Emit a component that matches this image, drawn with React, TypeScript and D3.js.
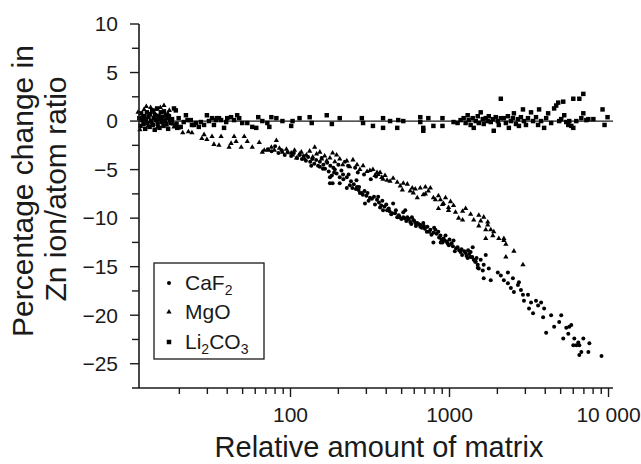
import React from "react";
import * as d3 from "d3";

// ---------- data ----------
const seriesNames = ["CaF2", "MgO", "Li2CO3"];

const xTickValues = [100, 1000, 10000];
const xTickLabels = ["100", "1000", "10 000"];
const yTickValues = [-25, -20, -15, -10, -5, 0, 5, 10];
const yTickLabels = ["\u221225", "\u221220", "\u221215", "\u221210", "\u22125", "0", "5", "10"];

const xLabel = "Relative amount of matrix";
const yLabelLines = ["Percentage change in", "Zn ion/atom ratio"];

const caf2Data: [number, number][] = [
  [72, -2.9], [76, -3.1], [80, -2.6], [84, -3.3], [88, -3.0], [92, -3.5], [96, -3.2], [101, -3.6], [105, -3.3], [110, -3.8], [114, -3.5],
  [118, -3.9], [121, -3.6], [125, -4.1], [129, -3.7], [133, -4.2], [137, -3.9], [141, -4.4], [145, -4.0], [149, -4.6], [153, -4.2],
  [157, -3.8], [161, -4.5], [165, -4.9], [170, -4.3], [174, -5.2], [178, -4.6], [182, -5.6], [186, -4.8], [190, -5.0], [195, -5.4],
  [200, -4.5], [204, -5.8], [209, -5.1], [214, -5.5], [220, -4.2], [230, -4.6], [255, -4.8], [265, -5.3], [290, -5.5], [320, -6.0], [345, -5.7],
  [153, -4.7], [177, -5.8], [184, -6.4], [177, -6.4], [204, -6.4], [226, -5.8], [226, -6.9], [236, -6.6], [262, -6.8], [273, -7.4],
  [281, -7.4], [294, -8.5], [316, -7.9], [356, -7.8], [366, -8.9], [382, -9.2], [405, -9.2], [442, -8.5], [455, -9.5], [436, -9.5],
  [469, -9.9], [512, -9.9], [512, -9.4], [527, -9.2], [543, -9.9], [566, -10.4], [592, -10.2], [627, -10.5], [655, -10.7], [655, -10.9],
  [684, -10.5], [726, -10.9], [758, -11.2], [792, -11.5], [815, -11.2], [877, -11.8], [916, -12.1], [944, -11.8], [972, -12.6], [903, -12.5],
  [792, -12.5], [1060, -12.3], [1124, -13.0], [1174, -13.5], [1263, -13.6], [1358, -13.5], [1301, -14.1], [1420, -14.3], [1505, -14.8], [1528, -15.2],
  [240, -6.2], [250, -6.5], [258, -7.0], [268, -7.1], [285, -7.6], [300, -7.7], [310, -8.2], [325, -8.0], [340, -8.6], [360, -8.4],
  [372, -8.7], [390, -8.8], [415, -9.0], [430, -9.6], [480, -9.7], [498, -10.1], [520, -10.0], [555, -10.1], [575, -10.6], [600, -10.3],
  [615, -10.8], [640, -10.6], [670, -11.0], [700, -11.1], [745, -11.4], [770, -11.7], [830, -11.6], [860, -12.0], [890, -12.2], [930, -12.3],
  [960, -12.4], [990, -12.8], [1030, -12.6], [1100, -13.1], [1150, -13.3], [1200, -13.8], [1240, -13.4], [1280, -13.9], [1330, -13.7], [1390, -14.0],
  [1450, -14.5], [1480, -14.1],
  [245, -6.9], [270, -6.8], [292, -7.2], [305, -7.4], [335, -7.8], [350, -8.1], [378, -8.2], [400, -8.6], [420, -9.3], [460, -9.2],
  [485, -9.9], [535, -10.3], [580, -9.9], [610, -10.5], [690, -10.8], [720, -11.4], [800, -11.0], [850, -11.4], [880, -12.5], [1000, -12.2],
  [1050, -12.9], [1080, -13.4], [1190, -13.2], [1310, -13.3], [135, -4.6], [160, -4.9], [188, -5.3], [215, -6.0], [232, -5.5], [260, -6.1],
  [1399, -13.0], [1358, -14.0], [1462, -14.5], [1571, -14.3], [1690, -13.8], [1641, -14.8], [1619, -15.4], [1505, -15.1], [1766, -15.2], [1817, -16.4],
  [1641, -16.2], [2012, -15.6], [2102, -15.9], [2197, -16.4], [2329, -16.7], [2329, -15.6], [2504, -16.2], [2431, -17.2], [2693, -16.9], [2541, -17.6],
  [2733, -16.6], [2813, -17.4], [2897, -17.9], [3115, -17.9], [2939, -18.5], [3256, -18.7], [3500, -18.5], [3767, -18.7], [3162, -19.3], [3352, -19.8],
  [3606, -19.0], [3936, -19.3], [3878, -20.2], [4356, -20.0], [4053, -21.8], [4550, -21.2], [4896, -20.7], [5043, -20.0], [5424, -21.3], [5665, -21.2],
  [5832, -21.0], [5583, -21.9], [5191, -22.4], [6093, -22.4], [6456, -22.8], [6272, -23.1], [6552, -23.1], [6943, -22.4], [7577, -22.9], [6004, -23.1],
  [6745, -23.8], [6552, -24.1], [7467, -23.8], [9036, -24.2],
];

const mgoData: [number, number][] = [
  [11.0, 0.9], [11.3, -0.9], [11.6, 0.4], [12.0, 1.2], [12.4, 1.5], [12.7, -0.5], [12.9, 0.7], [13.2, 1.4], [13.5, -0.2], [13.9, 0.9],
  [14.2, 1.2], [14.6, -0.6], [14.9, 0.5], [15.2, 1.4], [15.6, 0.2], [16.0, 1.6], [16.5, -0.4], [16.9, 0.8], [17.3, 1.1], [17.8, 0.0],
  [18.3, -0.3], [18.5, -0.6], [19.8, -0.7], [21.0, -1.2], [22.8, -1.1], [24.0, -1.2], [27.7, -1.8], [28.6, -1.4], [29.8, -1.9], [32.1, -1.6],
  [33.0, -2.4], [35.5, -2.5], [36.6, -1.6], [41.1, -2.7], [42.3, -2.3], [44.2, -1.6], [45.5, -2.1], [49.0, -2.7], [51.2, -1.6], [53.5, -2.1],
  [57.5, -2.7], [63.6, -2.2], [66.5, -3.2], [68.4, -3.0], [72.6, -3.0], [75.8, -2.7], [79.2, -3.0], [81.5, -2.0], [85.2, -2.8], [89, -3.2],
  [94.3, -2.9], [101, -3.3], [103, -3.5], [106, -3.0], [109, -3.8], [114, -3.4], [117, -3.2], [123, -3.9], [126, -3.5], [132, -3.1],
  [138, -3.7], [142, -2.7], [146, -3.4], [153, -3.2], [157, -3.9], [164, -3.6], [169, -4.1], [177, -3.8], [184, -3.3], [190, -4.2],
  [195, -3.5], [204, -3.9], [213, -4.5], [226, -4.1], [236, -4.7], [247, -4.0], [262, -4.5], [273, -5.0], [286, -4.6], [303, -5.2],
  [316, -5.1], [330, -5.0], [340, -5.6], [350, -5.3], [356, -5.5], [366, -5.3], [375, -5.8], [382, -6.0], [393, -5.6], [405, -6.1],
  [423, -6.2], [442, -5.9], [469, -6.3], [490, -6.7], [512, -6.4], [505, -7.1], [543, -6.5], [566, -7.2], [583, -6.9], [592, -7.4],
  [609, -7.0], [627, -7.9], [655, -6.9], [684, -7.6], [705, -6.8], [758, -6.9], [705, -7.5], [736, -7.2], [792, -7.9], [815, -8.1],
  [852, -7.7], [852, -9.0], [877, -8.1], [903, -8.6], [916, -8.5], [944, -7.9], [986, -9.2], [986, -8.9], [1015, -8.3], [1060, -8.7],
  [1091, -9.4], [1141, -10.0], [1209, -9.3], [1209, -10.2], [1263, -9.0], [1358, -9.6], [1420, -10.2], [1528, -9.7], [1571, -10.3], [1641, -9.9],
  [1740, -10.4], [1528, -10.8], [1740, -10.7], [1690, -11.2], [1817, -11.2], [1898, -11.4], [1872, -11.8], [1690, -12.1], [2042, -12.1], [2197, -12.1],
  [2197, -12.3], [2262, -12.7], [2541, -13.4], [2262, -14.0], [2897, -14.8],
];

const li2co3Data: [number, number][] = [
  [11.2, 0.3], [11.4, -0.5], [11.5, 0.8], [11.7, 0.1], [11.9, -0.3], [12.0, 0.5], [12.2, -0.8], [12.3, 0.2], [12.5, 0.9], [12.6, -0.2],
  [12.8, 0.4], [13.0, -0.6], [13.1, 0.7], [13.3, 0.0], [13.5, 1.1], [13.6, -0.4], [13.8, 0.3], [14.0, -0.9], [14.1, 0.6], [14.3, 0.1],
  [14.5, 1.3], [14.6, -0.3], [14.8, 0.5], [15.0, -0.7], [15.1, 0.2], [15.3, 0.9], [15.5, -0.1], [15.7, 0.4], [15.9, -0.5], [16.0, 1.0],
  [16.2, 0.0], [16.4, 0.6], [16.6, -0.3], [16.8, 0.3], [17.0, -0.8], [17.2, 0.5], [17.5, 0.1], [17.7, -0.2], [18.0, 0.2], [18.5, 1.3],
  [19.0, 1.1], [19.2, -0.3], [19.4, -0.7], [19.8, 0.3], [20.4, -0.6], [21.3, -0.1], [22.0, 0.6], [22.5, 0.1], [23.6, 0.1], [24.0, -0.4],
  [24.7, -0.4], [25.4, -0.2], [26.5, -0.6], [27.3, -0.1], [28.6, -0.4], [29.8, 0.6], [30.7, 0.0], [32.1, 0.3], [33.0, -0.4], [34.0, 0.1],
  [34.5, 0.3], [35.5, 0.3], [36.6, 0.1], [38.2, -0.7], [39.4, -0.1], [40.0, 0.3], [42.3, 0.4], [44.2, 0.1], [46.2, 0.6], [47.6, 0.3],
  [49.7, -0.2], [53.5, -0.2], [57.5, -0.6], [60.9, -0.7], [62.7, 0.4], [66.5, 0.0], [71.5, -0.2], [73.6, -0.6], [75.8, 0.4], [81.5, 0.3],
  [89, 0.0], [101, -0.5], [103, 0.0], [114, 0.3], [132, 0.4], [136, -0.2], [169, 0.6], [182, -0.3], [204, 0.3], [281, 0.3],
  [286, -0.2], [330, -0.5], [382, 0.3], [382, -0.7], [423, 0.0], [469, -0.7], [476, 0.1], [512, 0.0], [655, 0.4], [655, -0.1],
  [684, -0.7], [684, -1.0], [736, 0.3], [792, -0.5], [903, 0.3], [903, -0.5], [1060, -0.1], [1124, -0.2], [1174, 0.1], [1227, 0.3],
  [1263, -0.2], [1301, 0.6], [1320, 0.1], [1358, -0.4], [1399, 0.3], [1420, -0.7], [1462, 0.0], [1505, 0.5], [1528, -0.2], [1571, 0.9],
  [1619, 0.2], [1641, -0.3], [1690, 0.3], [1740, 0.0], [1766, 0.5], [1817, -0.1], [1872, 0.2], [1898, -1.0], [1954, 0.4], [2012, 0.0],
  [2042, -0.4], [2102, 2.3], [2102, 0.3], [2197, 0.3], [2262, -0.2], [2329, 0.5], [2362, -0.7], [2431, 0.0], [2504, 0.3], [2541, 0.8],
  [2616, -0.3], [2693, 0.2], [2733, -0.5], [2813, 0.4], [2897, 1.2], [2939, 0.0], [3026, -0.4], [3115, 0.3], [3256, 0.9], [3352, 0.0],
  [3500, 0.4], [3606, -0.4], [3659, 1.2], [3767, 0.0], [3936, -0.7], [4053, 0.3], [4172, 0.8], [4356, -0.2], [4550, 1.3], [4687, 1.6],
  [4825, 1.9], [4896, 0.0], [5043, 0.2], [5191, 2.0], [5268, 0.6], [5424, -0.1], [5583, -0.4], [5665, 0.0], [5832, -0.5], [6004, 2.3],
  [6004, -0.7], [6272, 0.0], [6552, 2.3], [6745, 0.3], [6943, 2.8], [6943, 0.8], [7253, 0.1], [7467, 0.2], [8030, 0.2], [9170, 1.2],
  [9440, -0.4], [9860, 0.4],
];

// ---------- layout ----------
const W = 641;
const H = 464;
const FONT = "'Liberation Sans', Arial, Helvetica, sans-serif";
const INK = "#1a1a1a";

export default function App() {
  const x = d3.scaleLog().domain([11.15, 10670]).range([139, 613]);
  const y = d3.scaleLinear().domain([-27.5, 10]).range([388, 24]);

  const x0 = x.range()[0];
  const x1 = x.range()[1];
  const yBottom = y.range()[0];
  const yTop = y.range()[1];

  const minorX: number[] = [];
  for (const dec of [10, 100, 1000]) {
    for (let k = 2; k <= 9; k++) {
      const v = dec * k;
      if (v >= x.domain()[0] && v <= x.domain()[1]) minorX.push(v);
    }
  }
  const minorY = d3.range(-22.5, 10, 5);

  const tri = d3.symbol().type(d3.symbolTriangle).size(12)()!;
  const sq = d3.symbol().type(d3.symbolSquare).size(20)()!;

  const legendRows = [
    { y: 283, kind: "circle" },
    { y: 312, kind: "tri" },
    { y: 342, kind: "sq" },
  ];

  const marker = (kind: string, cx: number, cy: number, key: string | number) => {
    if (kind === "circle") return <circle key={key} cx={cx} cy={cy} r={2} fill="#000" />;
    if (kind === "tri") return <path key={key} d={tri} transform={`translate(${cx},${cy})`} fill="#000" />;
    return <path key={key} d={sq} transform={`translate(${cx},${cy})`} fill="#000" />;
  };

  return (
    <svg
      width={W}
      height={H}
      viewBox={`0 0 ${W} ${H}`}
      style={{ position: "absolute", left: 0, top: 0, background: "#fff" }}
      fontFamily={FONT}
    >
      <rect width={W} height={H} fill="#fff" />

      {/* zero reference line */}
      <line x1={x0} x2={x1} y1={y(0)} y2={y(0)} stroke={INK} strokeWidth={1.3} />

      {/* data */}
      <g>{li2co3Data.map((d, i) => marker("sq", x(d[0]), y(d[1]), "l" + i))}</g>
      <g>{mgoData.map((d, i) => marker("tri", x(d[0]), y(d[1]), "m" + i))}</g>
      <g>{caf2Data.map((d, i) => marker("circle", x(d[0]), y(d[1]), "c" + i))}</g>

      {/* y axis */}
      <line x1={x0} x2={x0} y1={yTop} y2={yBottom} stroke={INK} strokeWidth={1.6} />
      {yTickValues.map((v, i) => (
        <g key={"yt" + v}>
          <line x1={x0 - 9} x2={x0} y1={y(v)} y2={y(v)} stroke={INK} strokeWidth={1.4} />
          <text x={118} y={y(v)} dy="0.35em" textAnchor="end" fontSize={21} fill={INK}>
            {yTickLabels[i]}
          </text>
        </g>
      ))}
      {minorY.map((v) => (
        <line key={"ym" + v} x1={x0 - 7} x2={x0} y1={y(v)} y2={y(v)} stroke={INK} strokeWidth={1.4} />
      ))}

      {/* x axis */}
      <line x1={x0 - 7} x2={x1} y1={yBottom} y2={yBottom} stroke={INK} strokeWidth={1.6} />
      {xTickValues.map((v, i) => (
        <g key={"xt" + v}>
          <line x1={x(v)} x2={x(v)} y1={yBottom} y2={yBottom + 9} stroke={INK} strokeWidth={1.4} />
          <text x={x(v)} y={422} textAnchor="middle" fontSize={21} fill={INK}>
            {xTickLabels[i]}
          </text>
        </g>
      ))}
      {minorX.map((v) => (
        <line key={"xm" + v} x1={x(v)} x2={x(v)} y1={yBottom} y2={yBottom + 6} stroke={INK} strokeWidth={1.4} />
      ))}

      {/* axis titles */}
      <text x={379} y={457} textAnchor="middle" fontSize={29} fill={INK}>
        {xLabel}
      </text>
      <g transform="translate(33,191) rotate(-90)">
        <text x={0} y={0} textAnchor="middle" fontSize={30} fill={INK}>
          {yLabelLines[0]}
        </text>
      </g>
      <g transform="translate(66,189) rotate(-90)">
        <text x={0} y={0} textAnchor="middle" fontSize={30} fill={INK}>
          {yLabelLines[1]}
        </text>
      </g>

      {/* legend */}
      <rect x={154} y={263} width={110} height={96} fill="#fff" stroke={INK} strokeWidth={1.3} />
      {legendRows.map((r, i) => (
        <g key={"lg" + i}>
          {marker(r.kind, 169, r.y, "lm" + i)}
          <text x={185} y={r.y} dy="0.35em" fontSize={21} fill={INK}>
            {i === 0 && (
              <>
                CaF<tspan fontSize={14} dy="5">2</tspan>
              </>
            )}
            {i === 1 && seriesNames[1]}
            {i === 2 && (
              <>
                Li<tspan fontSize={14} dy="5">2</tspan>
                <tspan dy="-5">CO</tspan>
                <tspan fontSize={14} dy="5">3</tspan>
              </>
            )}
          </text>
        </g>
      ))}
    </svg>
  );
}
